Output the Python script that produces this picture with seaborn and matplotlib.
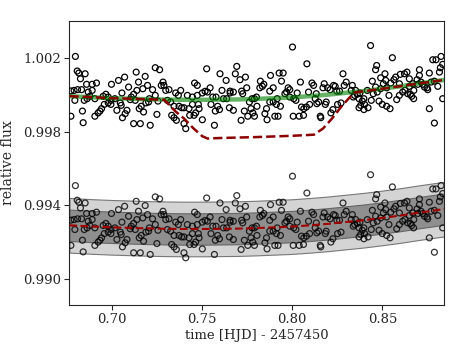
import numpy as np
import pandas as pd
from matplotlib import pyplot as plt
import seaborn as sns

time = [
    0.6797, 0.6807, 0.6816, 0.6825, 0.6851, 0.6772, 0.6790, 0.6809, 0.6831, 0.6859,
    0.6890, 0.6914, 0.6997, 0.6868, 0.6890, 0.6877, 0.6905, 0.6862, 0.6794, 0.6846,
    0.6966, 0.6951, 0.6979, 0.6994, 0.7016, 0.6957, 0.6942, 0.6933, 0.6923, 0.6905,
    0.6979, 0.6994, 0.6836, 0.6772, 0.6840,
    0.7240, 0.7264, 0.7134, 0.7184, 0.7070, 0.7036, 0.7147, 0.7197, 0.7092, 0.7055,
    0.7138, 0.7171, 0.7225, 0.7273, 0.7120, 0.7107, 0.7129, 0.7101, 0.7207, 0.7240,
    0.7255, 0.7188, 0.7203, 0.7046, 0.7027, 0.7051, 0.7083, 0.7073, 0.7058, 0.7162,
    0.7151, 0.7175, 0.7249, 0.7120, 0.7157, 0.7212,
    0.7525, 0.7458, 0.7473, 0.7283, 0.7288, 0.7298, 0.7316, 0.7353, 0.7381, 0.7368,
    0.7418, 0.7446, 0.7501, 0.7516, 0.7529, 0.7473, 0.7307, 0.7325, 0.7344, 0.7372,
    0.7386, 0.7399, 0.7427, 0.7446, 0.7479, 0.7483, 0.7464, 0.7431, 0.7455, 0.7501,
    0.7331, 0.7344, 0.7357, 0.7399, 0.7409,
    0.7692, 0.7599, 0.7684, 0.7740, 0.7633, 0.7710, 0.7544, 0.7610, 0.7655, 0.7673,
    0.7719, 0.7747, 0.7725, 0.7559, 0.7577, 0.7618, 0.7636, 0.7655, 0.7777, 0.7790,
    0.7762, 0.7549, 0.7586, 0.7651, 0.7673, 0.7573, 0.7596, 0.7734, 0.7771, 0.7781,
    0.7753, 0.7790, 0.7716, 0.7568,
    0.8001, 0.7879, 0.7927, 0.7949, 0.7823, 0.7842, 0.7834, 0.7820, 0.7894, 0.7875,
    0.7940, 0.8045, 0.7977, 0.7986, 0.7968, 0.7959, 0.8027, 0.7801, 0.7916, 0.7986,
    0.8008, 0.8020, 0.7875, 0.7894, 0.7912, 0.7934, 0.7804, 0.7857, 0.7848, 0.8051,
    0.8064, 0.7903, 0.7921, 0.8005, 0.8038, 0.7860,
    0.8081, 0.8281, 0.8109, 0.8118, 0.8177, 0.8229, 0.8238, 0.8299, 0.8288, 0.8170,
    0.8196, 0.8210, 0.8247, 0.8262, 0.8090, 0.8133, 0.8127, 0.8146, 0.8136, 0.8188,
    0.8183, 0.8096, 0.8078, 0.8251, 0.8270, 0.8225, 0.8214, 0.8062, 0.8155, 0.8158,
    0.8434, 0.8555, 0.8468, 0.8462, 0.8514, 0.8490, 0.8573, 0.8564, 0.8444, 0.8518,
    0.8505, 0.8546, 0.8333, 0.8462, 0.8490, 0.8523, 0.8327, 0.8351, 0.8416, 0.8471,
    0.8360, 0.8375, 0.8346, 0.8449, 0.8536, 0.8338, 0.8370, 0.8397, 0.8388, 0.8438,
    0.8579, 0.8481, 0.8379, 0.8401, 0.8499, 0.8523, 0.8370, 0.8397, 0.8420, 0.8542,
    0.8779, 0.8797, 0.8825, 0.8834, 0.8821, 0.8816, 0.8705, 0.8760, 0.8636, 0.8622,
    0.8599, 0.8705, 0.8692, 0.8649, 0.8714, 0.8770, 0.8788, 0.8594, 0.8668, 0.8696,
    0.8723, 0.8649, 0.8733, 0.8747, 0.8807, 0.8751, 0.8625, 0.8674, 0.8612, 0.8640,
    0.8655, 0.8594, 0.8662, 0.8673, 0.8834, 0.8760, 0.8788,
]
flux = [
    1.00207, 1.00128, 1.00117, 1.00086, 1.00113, 1.00020, 1.00023, 1.00027, 1.00027, 1.00056,
    1.00056, 1.00063, 1.00056, 1.00014, 1.00023, 0.99991, 0.99978, 0.99978, 0.99969, 0.99969,
    1.00002, 0.99991, 0.99987, 0.99969, 0.99978, 0.99947, 0.99924, 0.99911, 0.99901, 0.99883,
    0.99955, 0.99947, 0.99911, 0.99883, 0.99848,
    1.00146, 1.00135, 1.00122, 1.00099, 1.00095, 1.00077, 1.00068, 1.00050, 1.00041, 1.00009,
    1.00023, 1.00032, 1.00027, 1.00050, 1.00002, 0.99987, 0.99969, 0.99973, 0.99978, 0.99996,
    0.99965, 0.99955, 0.99960, 0.99955, 0.99915, 0.99942, 0.99915, 0.99897, 0.99875, 0.99937,
    0.99924, 0.99906, 0.99893, 0.99843, 0.99843, 0.99834,
    1.00140, 1.00063, 1.00050, 1.00068, 1.00050, 1.00023, 1.00027, 1.00009, 1.00023, 0.99996,
    0.99996, 0.99987, 1.00009, 1.00018, 1.00014, 0.99996, 0.99969, 0.99960, 0.99937, 0.99937,
    0.99929, 0.99929, 0.99924, 0.99947, 0.99947, 0.99924, 0.99901, 0.99888, 0.99888, 0.99864,
    0.99888, 0.99875, 0.99861, 0.99843, 0.99816,
    1.00153, 1.00113, 1.00113, 1.00095, 1.00077, 1.00081, 1.00037, 1.00023, 1.00019, 1.00014,
    1.00019, 1.00037, 1.00005, 0.99987, 0.99987, 0.99978, 0.99978, 1.00009, 0.99978, 0.99978,
    0.99960, 0.99947, 0.99937, 0.99929, 0.99915, 0.99911, 0.99919, 0.99911, 0.99924, 0.99901,
    0.99883, 0.99883, 0.99861, 0.99834,
    1.00258, 1.00104, 1.00117, 1.00117, 1.00073, 1.00056, 1.00045, 1.00037, 1.00037, 1.00019,
    1.00073, 1.00068, 1.00037, 1.00027, 1.00014, 1.00005, 1.00009, 0.99987, 0.99978, 0.99987,
    0.99978, 0.99969, 0.99960, 0.99960, 0.99947, 0.99937, 0.99937, 0.99924, 0.99897, 0.99933,
    0.99924, 0.99883, 0.99883, 0.99883, 0.99883, 0.99864,
    1.00167, 1.00113, 1.00063, 1.00050, 1.00059, 1.00050, 1.00045, 1.00068, 1.00050, 1.00037,
    1.00037, 1.00027, 1.00019, 1.00019, 1.00014, 1.00005, 0.99978, 0.99960, 0.99951, 0.99960,
    0.99947, 0.99947, 0.99933, 0.99947, 0.99955, 0.99919, 0.99901, 0.99888, 0.99883, 0.99875,
    1.00266, 1.00200, 1.00158, 1.00135, 1.00113, 1.00091, 1.00095, 1.00081, 1.00073, 1.00077,
    1.00059, 1.00063, 1.00050, 1.00041, 1.00032, 1.00037, 1.00023, 1.00023, 1.00023, 1.00014,
    1.00002, 1.00009, 0.99996, 1.00005, 0.99996, 0.99987, 0.99978, 0.99978, 0.99965, 0.99969,
    0.99973, 0.99965, 0.99942, 0.99947, 0.99947, 0.99937, 0.99929, 0.99919, 0.99929, 0.99924,
    1.00189, 1.00189, 1.00207, 1.00164, 1.00146, 1.00122, 1.00135, 1.00117, 1.00122, 1.00113,
    1.00110, 1.00104, 1.00081, 1.00086, 1.00068, 1.00068, 1.00073, 1.00059, 1.00059, 1.00056,
    1.00056, 1.00045, 1.00041, 1.00037, 1.00045, 1.00027, 1.00023, 1.00023, 1.00014, 1.00005,
    1.00002, 0.99996, 0.99991, 0.99978, 0.99978, 0.99924, 0.99846,
]

# baseline trend and injected transit model
trend_time = [0.6764, 0.69, 0.70, 0.71, 0.72, 0.73, 0.74, 0.75, 0.76, 0.77, 0.78,
              0.79, 0.80, 0.81, 0.82, 0.83, 0.84, 0.85, 0.86, 0.87, 0.8844]
trend_flux = [0.99992, 0.99985, 0.99981, 0.99978, 0.99975, 0.99973, 0.99972, 0.99972,
              0.99973, 0.99974, 0.99977, 0.99981, 0.99985, 0.99992, 1.00000, 1.00010,
              1.00020, 1.00032, 1.00045, 1.00060, 1.00080]
model_time = [0.6764, 0.70, 0.72, 0.729, 0.735, 0.740, 0.745, 0.750, 0.753, 0.76,
              0.78, 0.80, 0.812, 0.817, 0.822, 0.827, 0.832, 0.835, 0.85, 0.87, 0.8844]
model_flux = [0.99992, 0.99981, 0.99975, 0.99972, 0.99911, 0.99870, 0.99819, 0.99775,
              0.99762, 0.99765, 0.99770, 0.99777, 0.99783, 0.99816, 0.99870, 0.99933,
              0.99987, 1.00012, 1.00032, 1.00060, 1.00080]

offset = 0.007
sig1 = 0.00085
sig2 = 0.00148

sns.set_style("ticks")
plt.rcParams['font.family'] = ['DejaVu Serif']

df = pd.DataFrame({'time': time, 'flux': flux})
df['flux_low'] = df['flux'] - offset
tr = pd.DataFrame({'time': trend_time, 'flux': trend_flux})
tr['flux_low'] = tr['flux'] - offset
mod = pd.DataFrame({'time': model_time, 'flux': model_flux})

fig, ax = plt.subplots(figsize=(4.63, 3.47), dpi=100)
fig.subplots_adjust(left=0.15, right=0.96, bottom=0.121, top=0.94)

# uncertainty bands on the shifted copy
ax.fill_between(tr['time'], tr['flux_low'] - sig2, tr['flux_low'] + sig2,
                color='#d4d4d4', edgecolor='#777777', linewidth=0.8, zorder=1)
ax.fill_between(tr['time'], tr['flux_low'] - sig1, tr['flux_low'] + sig1,
                color='#8f8f8f', edgecolor='#666666', linewidth=0.8, zorder=2)

sns.scatterplot(data=df, x='time', y='flux', ax=ax, marker='o', s=18,
                facecolor='none', edgecolor='black', linewidth=0.9, zorder=3)
sns.scatterplot(data=df, x='time', y='flux_low', ax=ax, marker='o', s=18,
                facecolor='none', edgecolor='black', linewidth=0.9, alpha=0.8, zorder=3)

sns.lineplot(data=tr, x='time', y='flux', ax=ax, color='green', alpha=0.6,
             linewidth=3.2, estimator=None, sort=False, zorder=4)
sns.lineplot(data=mod, x='time', y='flux', ax=ax, color='darkred',
             linewidth=1.8, linestyle='--', estimator=None, sort=False, zorder=5)
sns.lineplot(data=tr, x='time', y='flux_low', ax=ax, color='#a00000',
             linewidth=1.5, linestyle='--', estimator=None, sort=False, zorder=5)

ax.set_xlim(0.6764, 0.8844)
ax.set_ylim(0.9886, 1.004)
ax.set_xticks([0.70, 0.75, 0.80, 0.85])
ax.set_xticklabels(['0.70', '0.75', '0.80', '0.85'])
ax.set_yticks([0.990, 0.994, 0.998, 1.002])
ax.set_yticklabels(['0.990', '0.994', '0.998', '1.002'])
ax.tick_params(labelsize=9.5, pad=2.5)
ax.set_xlabel('time [HJD] - 2457450', fontsize=9.5, labelpad=2)
ax.set_ylabel('relative flux', fontsize=10, labelpad=6)

fig.savefig('out.png', dpi=100)
